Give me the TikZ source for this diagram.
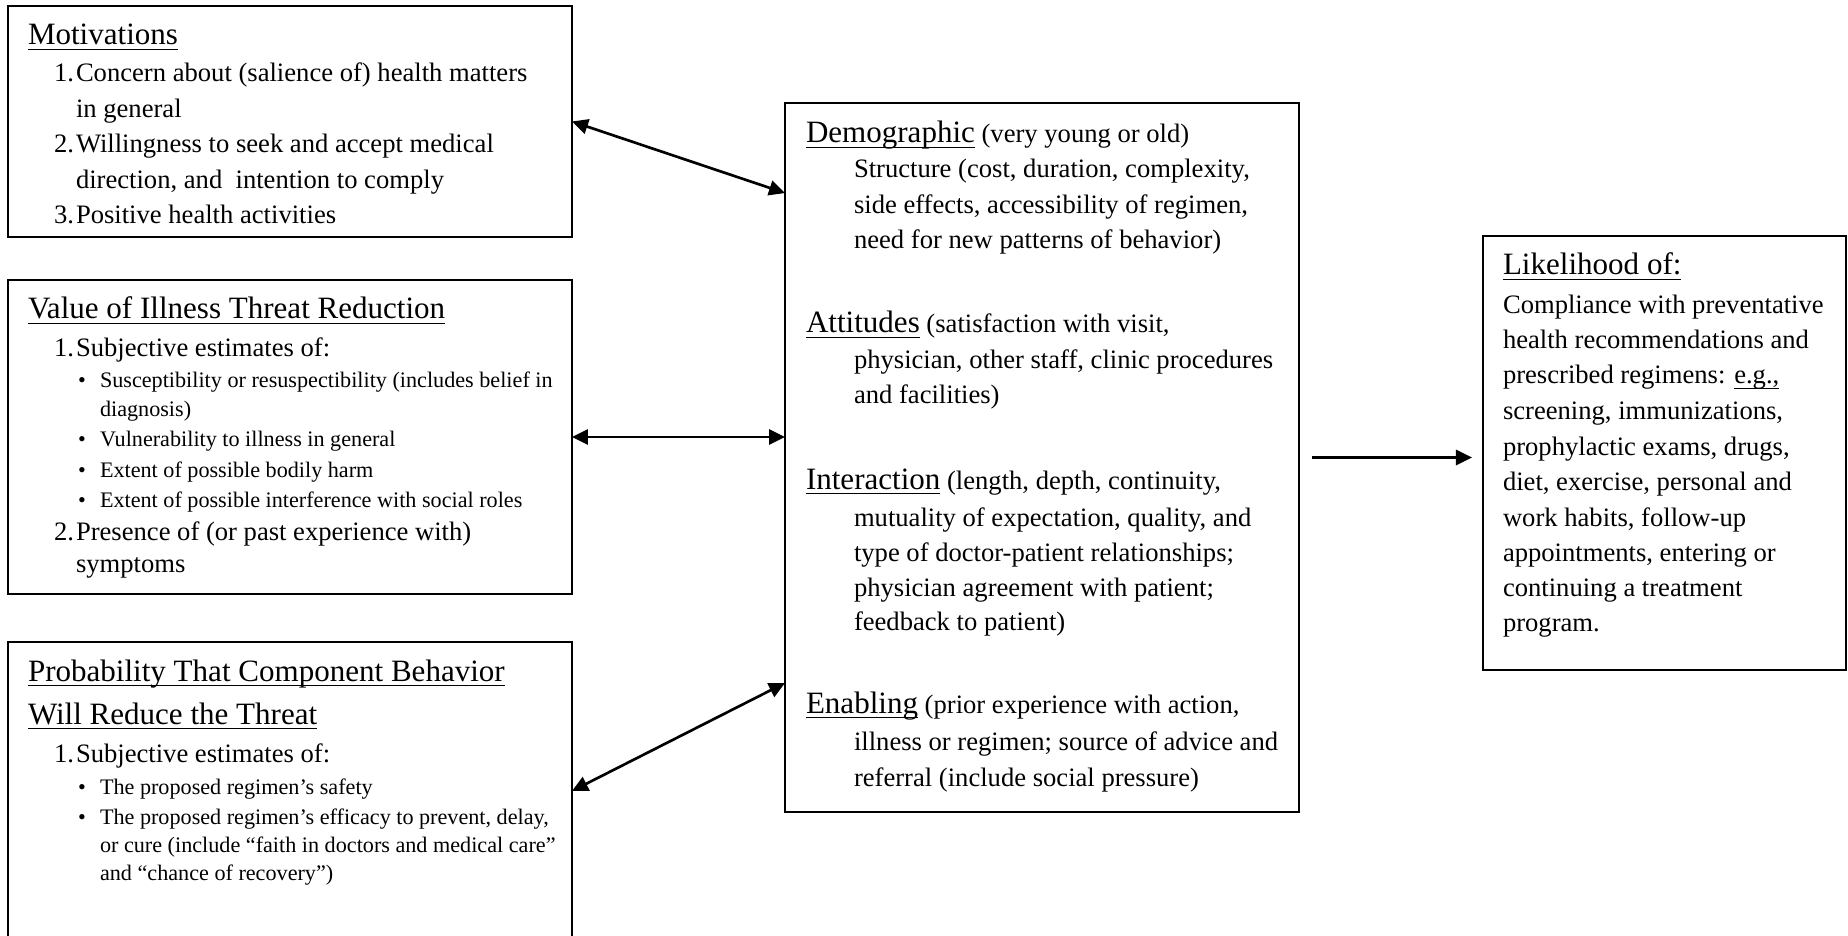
\documentclass[tikz,border=0pt]{standalone}
\usepackage{fontspec}
\setmainfont{Liberation Serif}
\usetikzlibrary{arrows.meta,calc,fit}

% underline placed at a fixed depth below the baseline
\newsavebox{\ulbox}
\newcommand{\uln}[1]{\sbox{\ulbox}{#1}\rlap{\vrule height -1.6pt depth 2.3pt width \wd\ulbox}\usebox{\ulbox}}
\newcommand{\hdfont}{\fontsize{14}{16}\selectfont}

\begin{document}
\begin{tikzpicture}[
  x=0.451pt, y=-0.451pt,
  frame/.style={draw, line width=0.8pt, inner sep=0pt, outer sep=0pt, rectangle},
  bd/.style={anchor=base west, inner sep=0pt, outer sep=0pt, font=\fontsize{12}{14}\selectfont},
  hd/.style={bd, font=\hdfont},
  sm/.style={bd, font=\fontsize{10}{12}\selectfont},
  conn/.style={line width=1.2pt},
  >={Triangle[length=7.2pt,width=6.8pt]}
]
\clip (0,0) rectangle (1848,936);
\fill[white] (0,0) rectangle (1848,936);

% ---- frames ----
\node[frame, fit={(8,6) (572,237)}] (mot) {};
\node[frame, fit={(8,280) (572,594)}] (val) {};
\node[frame, fit={(8,642) (572,990)}] (prob) {};
\node[frame, fit={(785,103) (1299,812)}] (fac) {};
\node[frame, fit={(1483,236) (1846,670)}] (lik) {};

% ---- Motivations ----
\node[hd] (tmot) at (28,45) {\uln{Motivations}};
\node[bd] (nm1) at (54,82) {1.};
\node[bd] (tm1) at (76,82) {Concern about (salience of) health matters};
\node[bd] (tm1b) at (76,117.5) {in general};
\node[bd] (nm2) at (54,153) {2.};
\node[bd] (tm2) at (76,153) {Willingness to seek and accept medical};
\node[bd] (tm2b) at (76,188.5) {direction, and\ \ intention to comply};
\node[bd] (nm3) at (54,224) {3.};
\node[bd] (tm3) at (76,224) {Positive health activities};

% ---- Value of illness threat reduction ----
\node[hd] (tval) at (28,319) {\uln{Value of Illness Threat Reduction}};
\node[bd] (nv1) at (54,357) {1.};
\node[bd] (tv1) at (76,357) {Subjective estimates of:};
\node[sm] (bv1) at (78,388) {•};
\node[sm] (tv1a) at (100,388) {Susceptibility or resuspectibility (includes belief in};
\node[sm] (tv1b) at (100,417) {diagnosis)};
\node[sm] (bv2) at (78,447) {•};
\node[sm] (tv2a) at (100,447) {Vulnerability to illness in general};
\node[sm] (bv3) at (78,477) {•};
\node[sm] (tv3a) at (100,477) {Extent of possible bodily harm};
\node[sm] (bv4) at (78,507) {•};
\node[sm] (tv4a) at (100,507) {Extent of possible interference with social roles};
\node[bd] (nv2) at (54,540) {2.};
\node[bd] (tv2) at (76,540) {Presence of (or past experience with)};
\node[bd] (tv2b) at (76,572) {symptoms};

% ---- Probability that component behavior will reduce the threat ----
\node[hd] (tprob) at (28,681) {\uln{Probability That Component Behavior}};
\node[hd] (tprobb) at (28,724) {\uln{Will Reduce the Threat}};
\node[bd] (np1) at (54,762) {1.};
\node[bd] (tp1) at (76,762) {Subjective estimates of:};
\node[sm] (bp1) at (78,794) {•};
\node[sm] (tp1a) at (100,794) {The proposed regimen’s safety};
\node[sm] (bp2) at (78,824) {•};
\node[sm] (tp2a) at (100,824) {The proposed regimen’s efficacy to prevent, delay,};
\node[sm] (tp2b) at (100,852) {or cure (include “faith in doctors and medical care”};
\node[sm] (tp2c) at (100,880) {and “chance of recovery”)};

% ---- Modifying factors ----
\node[bd] (fdem) at (806,143) {{\hdfont\uln{Demographic}} (very young or old)};
\node[bd] (fdem1) at (854,178) {Structure (cost, duration, complexity,};
\node[bd] (fdem2) at (854,214) {side effects, accessibility of regimen,};
\node[bd] (fdem3) at (854,249) {need for new patterns of behavior)};
\node[bd] (fatt) at (806,333) {{\hdfont\uln{Attitudes}} (satisfaction with visit,};
\node[bd] (fatt1) at (854,369) {physician, other staff, clinic procedures};
\node[bd] (fatt2) at (854,404) {and facilities)};
\node[bd] (fint) at (806,489) {{\hdfont\uln{Interaction}} (length, depth, continuity,};
\node[bd] (fint1) at (854,526) {mutuality of expectation, quality, and};
\node[bd] (fint2) at (854,561) {type of doctor-patient relationships;};
\node[bd] (fint3) at (854,596) {physician agreement with patient;};
\node[bd] (fint4) at (854,630) {feedback to patient)};
\node[bd] (fen) at (806,713) {{\hdfont\uln{Enabling}} (prior experience with action,};
\node[bd] (fen1) at (854,750) {illness or regimen; source of advice and};
\node[bd] (fen2) at (854,786) {referral (include social pressure)};

% ---- Likelihood ----
\node[hd] (tlik) at (1503,275) {\uln{Likelihood of:}};
\node[bd] (l1) at (1503,314) {Compliance with preventative};
\node[bd] (l2) at (1503,349) {health recommendations and};
\node[bd] (l3) at (1503,384) {prescribed regimens: \uln{e.g.,}};
\node[bd] (l4) at (1503,420) {screening, immunizations,};
\node[bd] (l5) at (1503,455) {prophylactic exams, drugs,};
\node[bd] (l6) at (1503,490) {diet, exercise, personal and};
\node[bd] (l7) at (1503,526) {work habits, follow-up};
\node[bd] (l8) at (1503,561) {appointments, entering or};
\node[bd] (l9) at (1503,596) {continuing a treatment};
\node[bd] (l10) at (1503,631) {program.};

% ---- connectors ----
\draw[conn, <->] (mot.east) -- ($(fac.north west)!0.127!(fac.south west)$);
\draw[conn, <->] (val.east) -- (val.east -| fac.west);
\draw[conn, <->] ($(prob.north east)+(0,149)$) -- ($(fac.north west)!0.818!(fac.south west)$);
\draw[conn, ->, shorten <=5.9pt, shorten >=5pt] (fac.east) -- (fac.east -| lik.west);
\end{tikzpicture}
\end{document}
